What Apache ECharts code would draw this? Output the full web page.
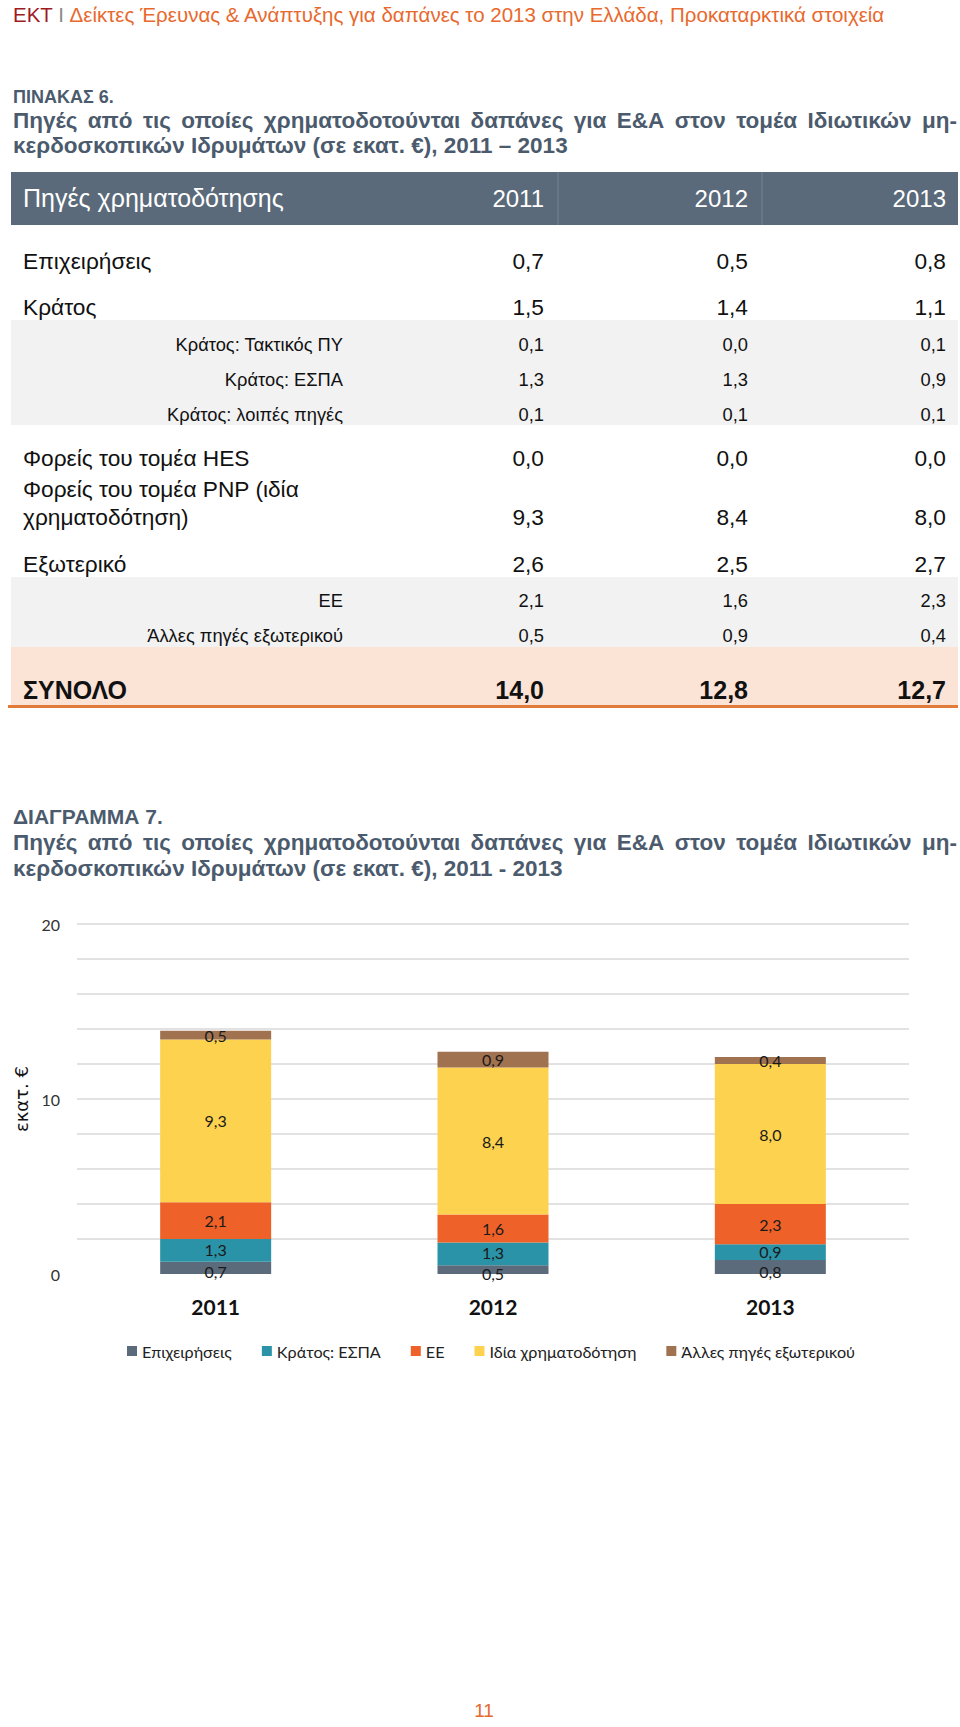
<!DOCTYPE html>
<html>
<head>
<meta charset="utf-8">
<script src="https://cdn.jsdelivr.net/npm/echarts@6/dist/echarts.min.js"></script>
<style>
  html, body { margin:0; padding:0; background:#fff; }
  body { width:960px; height:1727px; position:relative; overflow:hidden; font-family:"Liberation Sans", Arial, sans-serif; }
  .t { position:absolute; white-space:nowrap; }
  .box { position:absolute; }
  #chart { position:absolute; left:0; top:900px; width:960px; height:480px; }
</style>
</head>
<body>
<div id="chart"></div>
<script>
// ---------- DATA ----------
const pageHeaderLead = 'ΕΚΤ';
const pageHeaderSep = ' I ';
const pageHeaderText = 'Δείκτες Έρευνας & Ανάπτυξης για δαπάνες το 2013 στην Ελλάδα, Προκαταρκτικά στοιχεία';
const tableTag = 'ΠΙΝΑΚΑΣ 6.';
const tableTitle1 = 'Πηγές από τις οποίες χρηματοδοτούνται δαπάνες για Ε&Α στον τομέα Ιδιωτικών μη-';
const tableTitle2 = 'κερδοσκοπικών Ιδρυμάτων (σε εκατ. €), 2011 – 2013';
const tableHeadLabel = 'Πηγές χρηματοδότησης';
const years = ['2011', '2012', '2013'];
const rowLabels = ['Επιχειρήσεις', 'Κράτος', 'Κράτος: Τακτικός ΠΥ', 'Κράτος: ΕΣΠΑ', 'Κράτος: λοιπές πηγές',
  'Φορείς του τομέα HES', 'Φορείς του τομέα PNP (ιδία|χρηματοδότηση)', 'Εξωτερικό', 'ΕΕ', 'Άλλες πηγές εξωτερικού'];
const values2011 = ['0,7', '1,5', '0,1', '1,3', '0,1', '0,0', '9,3', '2,6', '2,1', '0,5'];
const values2012 = ['0,5', '1,4', '0,0', '1,3', '0,1', '0,0', '8,4', '2,5', '1,6', '0,9'];
const values2013 = ['0,8', '1,1', '0,1', '0,9', '0,1', '0,0', '8,0', '2,7', '2,3', '0,4'];
const totalLabel = 'ΣΥΝΟΛΟ';
const totals = ['14,0', '12,8', '12,7'];

const chartTag = 'ΔΙΑΓΡΑΜΜΑ 7.';
const chartTitle1 = 'Πηγές από τις οποίες χρηματοδοτούνται δαπάνες για Ε&Α στον τομέα Ιδιωτικών μη-';
const chartTitle2 = 'κερδοσκοπικών Ιδρυμάτων (σε εκατ. €), 2011 - 2013';
const chartCategories = ['2011', '2012', '2013'];
const seriesNames = ['Επιχειρήσεις', 'Κράτος: ΕΣΠΑ', 'ΕΕ', 'Ιδία χρηματοδότηση', 'Άλλες πηγές εξωτερικού'];
const businessVals = [0.7, 0.5, 0.8];
const stateEspaVals = [1.3, 1.3, 0.9];
const euVals = [2.1, 1.6, 2.3];
const ownVals = [9.3, 8.4, 8.0];
const otherAbroadVals = [0.5, 0.9, 0.4];
const yAxisName = 'εκατ. €';
const pageNumber = '11';

// ---------- LAYOUT (positions/styles) ----------
const SLATE = '#4B5B6D';
function txt(s, o) {
  const d = document.createElement('div');
  d.className = 't';
  d.textContent = s;
  const h = o.h || Math.round(o.size * 1.3);
  d.style.height = h + 'px';
  d.style.lineHeight = h + 'px';
  d.style.top = (o.cy - h / 2) + 'px';
  d.style.fontSize = o.size + 'px';
  if (o.bold) d.style.fontWeight = 'bold';
  d.style.color = o.color || '#111';
  if (o.right !== undefined) { d.style.right = (960 - o.right) + 'px'; d.style.textAlign = 'right'; }
  else if (o.center !== undefined) { d.style.left = (o.center - 100) + 'px'; d.style.width = '200px'; d.style.textAlign = 'center'; }
  else d.style.left = o.left + 'px';
  if (o.width) { d.style.width = o.width + 'px'; }
  if (o.justify) { d.style.textAlign = 'justify'; d.style.textAlignLast = 'justify'; d.style.whiteSpace = 'normal'; d.style.overflow = 'hidden'; }
  if (o.font) d.style.fontFamily = o.font;
  document.body.appendChild(d);
  return d;
}
function box(x, y, w, h, c) {
  const d = document.createElement('div');
  d.className = 'box';
  d.style.left = x + 'px'; d.style.top = y + 'px'; d.style.width = w + 'px'; d.style.height = h + 'px';
  d.style.background = c;
  document.body.appendChild(d);
}

// page header
(function () {
  const d = document.createElement('div');
  d.className = 't';
  d.style.left = '13px'; d.style.top = '3px'; d.style.fontSize = '20.5px'; d.style.lineHeight = '24px';
  const a = document.createElement('span'); a.textContent = pageHeaderLead; a.style.color = '#9E1B22';
  const b = document.createElement('span'); b.textContent = pageHeaderSep; b.style.color = '#8a8a8a';
  const c = document.createElement('span'); c.textContent = pageHeaderText; c.style.color = '#E8692D';
  d.appendChild(a); d.appendChild(b); d.appendChild(c);
  document.body.appendChild(d);
})();

// table title
txt(tableTag, { left: 13, cy: 97, size: 18, bold: true, color: SLATE });
txt(tableTitle1, { left: 13, cy: 120, size: 22.5, bold: true, color: SLATE, width: 944, justify: true });
txt(tableTitle2, { left: 13, cy: 145, size: 22.5, bold: true, color: SLATE });

// table backgrounds
box(11, 172, 947, 53, '#5A6A7A');
box(557, 172, 2, 53, '#67778A');
box(761, 172, 2, 53, '#67778A');
box(11, 320, 947, 105, '#F2F2F2');
box(11, 577, 947, 70, '#F2F2F2');
box(11, 647, 947, 58, '#FBE3D6');
box(8, 705, 950, 2.5, '#E07B39');

const colRight = [544, 748, 946];
txt(tableHeadLabel, { left: 23, cy: 198, size: 25, color: '#FFFFFF' });
years.forEach((y, i) => txt(y, { right: colRight[i], cy: 198, size: 24, color: '#FFFFFF' }));

// row layout: center y and kind (main / sub)
const rowCy = [261, 307, 345, 380, 415, 458, 517, 564, 601, 636];
const rowSub = [false, false, true, true, true, false, false, false, true, true];
const cols = [values2011, values2012, values2013];
rowLabels.forEach((lab, r) => {
  const sub = rowSub[r];
  const size = sub ? 18.3 : 22.7;
  const parts = lab.split('|');
  if (sub) {
    txt(lab, { right: 343, cy: rowCy[r], size: size, color: '#111' });
  } else if (parts.length === 2) {
    txt(parts[0], { left: 23, cy: rowCy[r] - 28, size: size, color: '#111' });
    txt(parts[1], { left: 23, cy: rowCy[r], size: size, color: '#111' });
  } else {
    txt(lab, { left: 23, cy: rowCy[r], size: size, color: '#111' });
  }
  cols.forEach((vals, c) => txt(vals[r], { right: colRight[c], cy: rowCy[r], size: size, color: '#111' }));
});
txt(totalLabel, { left: 23, cy: 690, size: 25, bold: true, color: '#111' });
totals.forEach((v, c) => txt(v, { right: colRight[c], cy: 690, size: 25, bold: true, color: '#111' }));

// chart title
txt(chartTag, { left: 13, cy: 816, size: 21, bold: true, color: SLATE });
txt(chartTitle1, { left: 13, cy: 842, size: 22.5, bold: true, color: SLATE, width: 944, justify: true });
txt(chartTitle2, { left: 13, cy: 868, size: 22.5, bold: true, color: SLATE });

// page number
txt(pageNumber, { center: 484, cy: 1710, size: 19, color: '#E8692D' });

// ---------- CHART ----------
const chart = echarts.init(document.getElementById('chart'), null, { renderer: 'svg' });
const colors = ['#5B6B7B', '#2B93A7', '#EE6128', '#FDD24E', '#A1724F'];
const seriesVals = [businessVals, stateEspaVals, euVals, ownVals, otherAbroadVals];
const labelOffsets = [[0, 4], [0, -1], [0, 0], [0, 0], [0, 0]];
const CF = 'Lato, "Open Sans", sans-serif';
chart.setOption({
  animation: false,
  color: colors,
  textStyle: { fontFamily: CF },
  grid: { left: 77, top: 24, width: 832, height: 350 },
  legend: {
    data: seriesNames,
    left: 122, top: 438,
    itemWidth: 10, itemHeight: 10, itemGap: 30,
    icon: 'rect',
    textStyle: { fontFamily: CF, fontSize: 16.2, color: '#222' }
  },
  xAxis: {
    type: 'category',
    data: chartCategories,
    axisLine: { show: false },
    axisTick: { show: false },
    axisLabel: { fontFamily: CF, fontSize: 21, fontWeight: 'bold', color: '#111', margin: 22 }
  },
  yAxis: {
    type: 'value',
    min: 0, max: 20, interval: 2,
    name: yAxisName,
    nameLocation: 'middle',
    nameGap: 45,
    nameTextStyle: { fontFamily: '"DejaVu Sans", sans-serif', fontSize: 18, color: '#111' },
    axisLine: { show: false },
    axisTick: { show: false },
    axisLabel: {
      fontFamily: CF, fontSize: 16, color: '#333', margin: 17,
      formatter: v => (v % 10 === 0 ? String(v) : '')
    },
    splitLine: { show: true, showMinLine: false, lineStyle: { color: '#D9D9D9', width: 1.5 } }
  },
  series: seriesNames.map((n, i) => ({
    name: n,
    type: 'bar',
    stack: 'total',
    barWidth: 111,
    data: seriesVals[i],
    label: {
      show: true,
      position: 'inside',
      offset: labelOffsets[i],
      fontFamily: CF,
      fontSize: 16,
      color: '#1a1a1a',
      formatter: p => p.value.toFixed(1).replace('.', ',')
    }
  }))
});
</script>
</body>
</html>
